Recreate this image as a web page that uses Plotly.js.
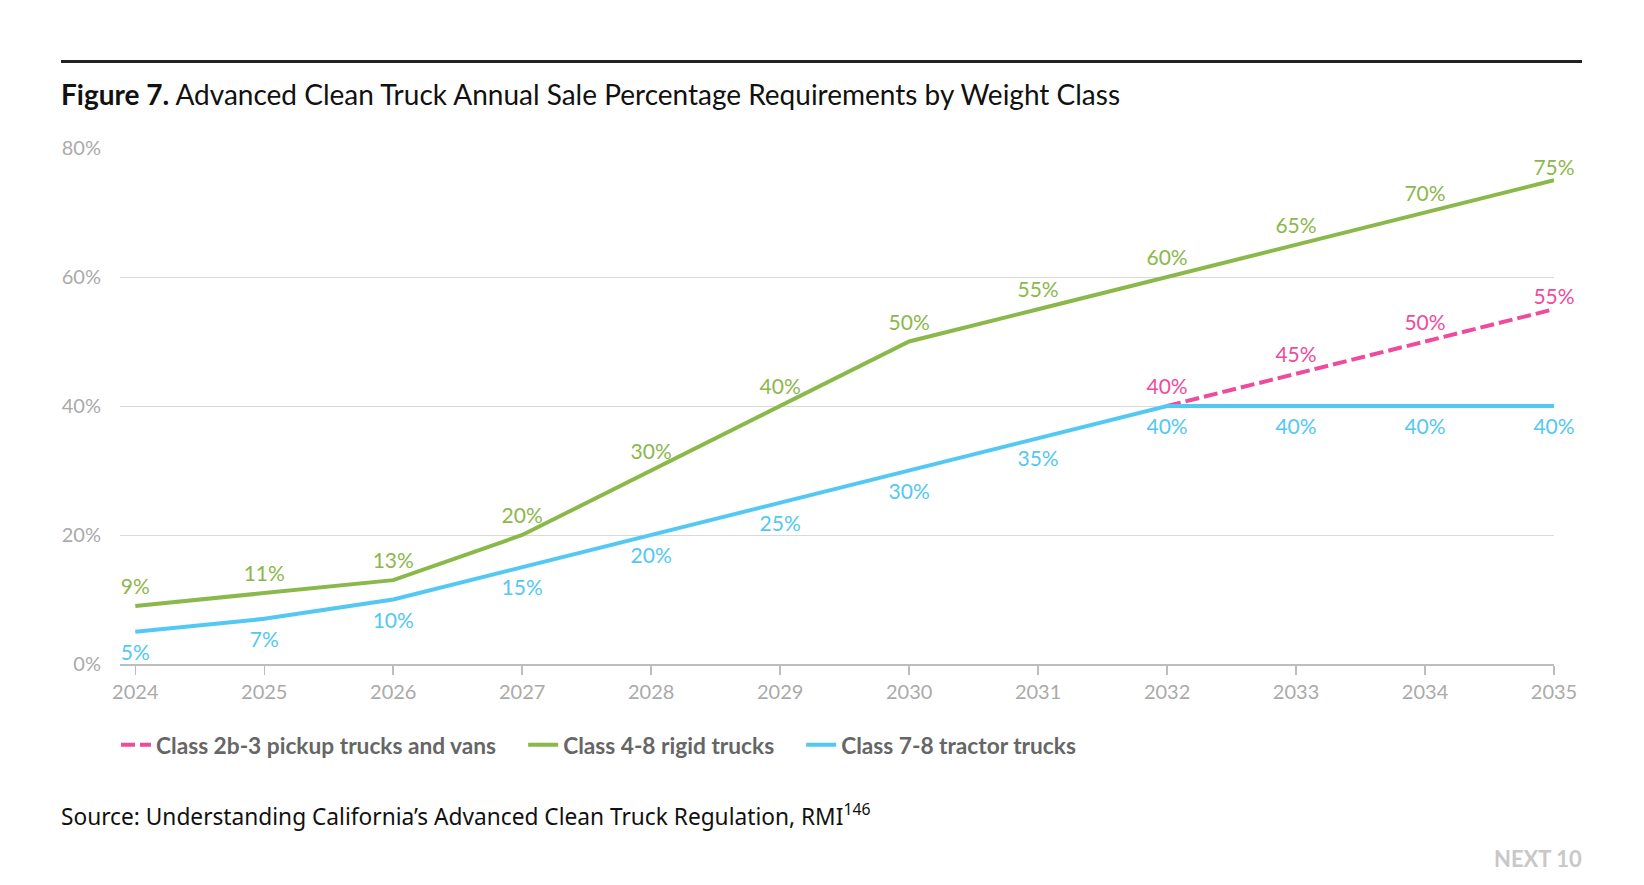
<!DOCTYPE html>
<html>
<head>
<meta charset="utf-8">
<script src="https://cdn.plot.ly/plotly-3.0.1.min.js"></script>
<style>
  html, body { margin: 0; padding: 0; background: #fff; }
  #chart { width: 1644px; height: 885px; }
</style>
</head>
<body>
<div id="chart"></div>
<script>
// ---- data ----
const years = [2024, 2025, 2026, 2027, 2028, 2029, 2030, 2031, 2032, 2033, 2034, 2035];
const pickupYears = [2032, 2033, 2034, 2035];
const pickupValues = [40, 45, 50, 55];
const rigidValues = [9, 11, 13, 20, 30, 40, 50, 55, 60, 65, 70, 75];
const tractorValues = [5, 7, 10, 15, 20, 25, 30, 35, 40, 40, 40, 40];
const seriesNames = ["Class 2b-3 pickup trucks and vans", "Class 4-8 rigid trucks", "Class 7-8 tractor trucks"];
const yTickValues = [0, 20, 40, 60, 80];
const yTickLabels = ["0%", "20%", "40%", "60%", "80%"];

const PINK = "#ee4b9c", GREEN = "#8bb84b", BLUE = "#52c8f2";
const FONT = "Lato, 'Noto Sans', sans-serif";
const pct = v => v.map(x => x + "%");
const GAP = "\u00A0\u00A0\u00A0\u00A0";

function lineTrace(x, y, name, color, dash) {
  return {
    x: x, y: y, name: name + GAP, mode: "lines",
    line: { color: color, width: 4, dash: dash || "solid" },
    hoverinfo: "skip"
  };
}
// labels: invisible markers set the label offset from the line
function labelTrace(x, y, color, pos, size, lastSize) {
  return {
    x: x, y: y, mode: "markers+text", text: pct(y), textposition: pos,
    textfont: { family: FONT, size: 21, color: color },
    marker: { size: x.map((_, i) => i === x.length - 1 ? lastSize : size), opacity: 0, color: color },
    cliponaxis: false, showlegend: false, hoverinfo: "skip"
  };
}

const traces = [
  lineTrace(pickupYears, pickupValues, seriesNames[0], PINK, "14px,5px"),
  lineTrace(years, rigidValues, seriesNames[1], GREEN),
  lineTrace(years, tractorValues, seriesNames[2], BLUE),
  labelTrace(pickupYears, pickupValues, PINK, "top center", 9, 0),
  labelTrace(years, rigidValues, GREEN, "top center", 9, 0),
  labelTrace(years, tractorValues, BLUE, "bottom center", 18, 18)
];

const L = 120, R = 1644 - 1554, T = 148, B = 885 - 664;
const PW = 1644 - L - R, PH = 885 - T - B;
const px = X => (X - L) / PW;      // pixel -> paper x
const py = Y => (885 - B - Y) / PH; // pixel -> paper y

const layout = {
  width: 1644, height: 885,
  margin: { l: L, r: R, t: T, b: B, pad: 0 },
  paper_bgcolor: "#fff", plot_bgcolor: "#fff",
  font: { family: FONT, color: "#aaa" },
  showlegend: true,
  title: {
    text: "<b>Figure 7.</b> Advanced Clean Truck Annual Sale Percentage Requirements by Weight Class",
    font: { family: FONT, size: 28, color: "#111" },
    xref: "container", yref: "container",
    x: 61 / 1644, xanchor: "left",
    y: 1 - 95 / 885, yanchor: "middle"
  },
  xaxis: {
    range: [2024 - 15.3 / 129, 2035],
    tickvals: years, ticktext: years.map(String),
    tickfont: { family: FONT, size: 20, color: "#aaa" },
    showgrid: false, zeroline: false,
    showline: true, linecolor: "#bdbdbd", linewidth: 1.5,
    ticks: "outside", ticklen: 9, tickcolor: "#bdbdbd", tickwidth: 1.5,
    fixedrange: true
  },
  yaxis: {
    range: [0, 80],
    tickvals: yTickValues, ticktext: yTickLabels,
    tickfont: { family: FONT, size: 20, color: "#aaa" },
    showgrid: true, gridcolor: "#d9d9d9", gridwidth: 1,
    zeroline: false, showline: false,
    ticks: "outside", ticklen: 14, tickcolor: "rgba(0,0,0,0)",
    fixedrange: true
  },
  legend: {
    orientation: "h",
    x: px(116), xanchor: "left",
    y: py(745), yanchor: "middle",
    font: { family: FONT, size: 22.7, color: "#666", weight: "bold" },
    traceorder: "normal",
    bgcolor: "rgba(0,0,0,0)"
  },
  shapes: [
    { type: "line", xref: "paper", yref: "paper",
      x0: px(61), x1: px(1582), y0: py(61.5), y1: py(61.5),
      line: { color: "#222", width: 3 } }
  ],
  annotations: [
    { xref: "paper", yref: "paper", x: px(59), y: py(815), xanchor: "left", yanchor: "middle",
      text: "Source: Understanding California’s Advanced Clean Truck Regulation, RMI<sup>146</sup>",
      showarrow: false, font: { family: "'Noto Sans', Lato, sans-serif", size: 22.7, color: "#111" } },
    { xref: "paper", yref: "paper", x: px(1584), y: py(858), xanchor: "right", yanchor: "middle",
      text: "<b>NEXT 10</b>",
      showarrow: false, font: { family: FONT, size: 22, color: "#c8c8c8" } }
  ]
};

Plotly.newPlot("chart", traces, layout, { displayModeBar: false, staticPlot: true });
</script>
</body>
</html>
